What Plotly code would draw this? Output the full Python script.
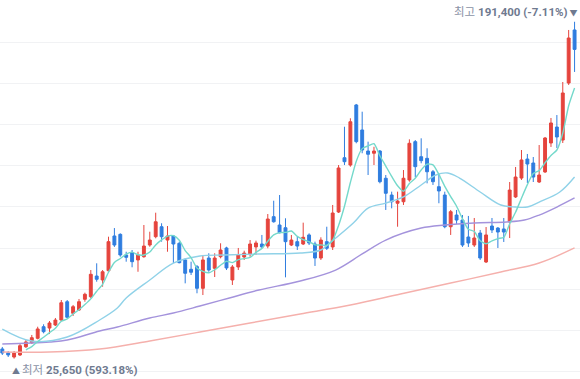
import plotly.graph_objects as go
import pandas as pd

# ---- candle data (KRW) ----
open_ = [30400, 28550, 26450, 27450, 31500, 33500, 35650, 41350, 40700, 42200,
         44650, 53650, 47950, 49600, 54850, 56100, 66300, 64350, 68900, 86000,
         86800, 76650, 77750, 74200, 75800, 81550, 85650, 90550, 84000, 86000,
         82400, 74200, 69600, 70900, 60250, 75150, 70100, 75800, 80100, 64350,
         70750, 75650, 77150, 80600, 82050, 81050, 95500, 91400, 90050, 81550,
         83200, 82050, 86500, 82050, 75150, 83200, 80600, 97800, 124500, 120900,
         150450, 138150, 127800, 126700, 127800, 114400, 106150, 102100, 102850, 113550,
         132400, 125000, 124200, 117600, 110250, 106150, 90550, 96300, 93850, 85500,
         81550, 87450, 73200, 90900, 89900, 89450, 92900, 105200, 114500, 123850,
         121900, 112550, 117500, 131750, 139600, 133200, 161250, 187350]
high_ = [31400, 29400, 29400, 33350, 34800, 37300, 41350, 42550, 44150, 45650,
         54500, 54500, 52050, 55000, 58100, 69250, 72550, 69250, 85650, 89900,
         87300, 78250, 79100, 78250, 91400, 88100, 97450, 92250, 90900, 86500,
         83200, 75000, 73350, 71700, 76650, 77500, 77500, 82400, 80700, 71700,
         80100, 78750, 84000, 83700, 86500, 96800, 103350, 106150, 94700, 86500,
         85650, 92550, 87300, 83200, 85350, 90550, 101250, 120900, 139750, 143900,
         150950, 147150, 132400, 129900, 128300, 116000, 107800, 107800, 118450, 133550,
         133200, 134050, 129150, 118450, 116000, 107800, 98800, 98800, 96300, 95850,
         94850, 88950, 90400, 94850, 90400, 94850, 112550, 119950, 128300, 126350,
         124850, 130750, 134700, 144050, 145500, 161750, 187350, 191400]
low_ = [27450, 26450, 25650, 26950, 30900, 32850, 35150, 38100, 37750, 41700,
        44150, 45650, 46650, 49100, 53650, 55350, 63500, 61050, 68400, 80600,
        75800, 73350, 70600, 68400, 75300, 80700, 84850, 83200, 78250, 72700,
        72550, 62700, 66800, 57800, 56950, 68400, 65800, 75000, 69250, 61900,
        69250, 74200, 75800, 76650, 79950, 79950, 92550, 87300, 65650, 81050,
        79100, 81550, 81550, 71250, 74200, 79100, 79100, 97300, 120900, 120100,
        131600, 126700, 116000, 120900, 111900, 98800, 99600, 90550, 101250, 112700,
        114850, 121750, 111900, 111100, 102100, 89800, 86500, 91900, 80600, 80600,
        80600, 74200, 72700, 87450, 80100, 83050, 85000, 104700, 113550, 112050,
        112550, 112050, 117000, 129800, 129300, 131750, 160300, 166700]
close_ = [28400, 27450, 28400, 32000, 33850, 35950, 40250, 38900, 43200, 44650,
          53150, 46000, 51200, 53650, 57300, 67150, 64700, 68400, 83200, 81550,
          76650, 75500, 73350, 76650, 81050, 84000, 93000, 85650, 86000, 82050,
          72850, 67650, 68150, 60250, 74200, 69250, 75150, 79100, 70250, 70750,
          76650, 77600, 82050, 82550, 80600, 94350, 93000, 87600, 83200, 84000,
          81050, 85350, 82550, 75150, 84000, 79950, 97300, 119450, 122550, 142200,
          132400, 128300, 126200, 127800, 112700, 107000, 102850, 103200, 114400, 131600,
          120100, 123050, 117600, 112700, 108150, 90550, 97950, 93850, 81550, 82550,
          85000, 75150, 86500, 88950, 87950, 87950, 108600, 115000, 123400, 121400,
          115000, 116000, 134200, 141600, 134700, 156350, 183400, 177800]

# ---- moving averages (candle index, value) ----
ma20_idx = [0, 5, 11, 16.5, 19.5, 21, 25, 29, 33.5, 37.5, 43.5, 50.5, 54, 55.5,
            59.5, 62, 65, 68, 71, 73.5, 75.5, 77.5, 81, 84.5, 87, 89, 91, 94.5, 97]
ma20_val = [40200, 34300, 36300, 44650, 50550, 55500, 64350, 72700, 76150, 76650,
            77150, 77600, 79100, 82550, 92400, 99750, 102200, 105200, 111100, 116000,
            117000, 114500, 107650, 101250, 100250, 100250, 102700, 107650, 115000]
ma60_idx = [0, 8, 11, 16.5, 19.5, 25, 29, 33.5, 38.5, 43.5, 50.5, 56.5, 61, 65,
            71, 75, 80, 85.5, 88.5, 91, 94, 97]
ma60_val = [32850, 33850, 34800, 39250, 41200, 45650, 48100, 51550, 55500, 59400,
            63850, 69250, 77150, 84000, 89900, 91400, 92400, 92900, 93850, 96300,
            100250, 104700]
ma120_idx = [0, 8, 16.5, 25, 33.5, 42, 50.5, 59, 67.5, 76, 84.5, 91, 97]
ma120_val = [28900, 28900, 30400, 34350, 38750, 43200, 47600, 52050, 57450, 62850,
             68300, 72700, 80100]

TXT_LIGHT = "#8a93a6"
TXT = "#6f7a90"
high_label = ("<span style='color:%s'>최고</span> <b>191,400 (-7.11%%)</b>"
              "<span style='font-size:8px'> ▼</span>" % TXT_LIGHT)
low_label = ("<span style='font-size:8px'>▲ </span>"
             "<span style='color:%s'>최저</span> <b>25,650 (593.18%%)</b>" % TXT_LIGHT)

idx = list(range(len(close_)))
ma5 = pd.Series(close_, dtype=float).rolling(5).mean().tolist()

RED = "#e5443d"
BLUE = "#2f7ddf"

fig = go.Figure()
fig.add_trace(go.Scatter(x=ma120_idx, y=ma120_val, mode="lines",
                         line=dict(color="#f5b0ac", width=1.4, shape="spline", smoothing=1.0),
                         hoverinfo="skip"))
fig.add_trace(go.Scatter(x=ma60_idx, y=ma60_val, mode="lines",
                         line=dict(color="#a493dc", width=1.4, shape="spline", smoothing=1.0),
                         hoverinfo="skip"))
fig.add_trace(go.Scatter(x=ma20_idx, y=ma20_val, mode="lines",
                         line=dict(color="#90d2e8", width=1.4, shape="spline", smoothing=1.0),
                         hoverinfo="skip"))
fig.add_trace(go.Scatter(x=idx, y=ma5, mode="lines",
                         line=dict(color="#74d9cb", width=1.4, shape="spline", smoothing=0.6),
                         hoverinfo="skip"))
fig.add_trace(go.Candlestick(
    x=idx, open=open_, high=high_, low=low_, close=close_,
    increasing=dict(line=dict(color=RED, width=1), fillcolor=RED),
    decreasing=dict(line=dict(color=BLUE, width=1), fillcolor=BLUE),
    whiskerwidth=0,
))

ymax = 202100
ymin = 15632
grid = [181288 - 20246 * k for k in range(9)]

fig.update_layout(
    width=580, height=379,
    margin=dict(l=0, r=0, t=0, b=0),
    paper_bgcolor="white", plot_bgcolor="white",
    showlegend=False,
    font=dict(family="Roboto, Noto Sans CJK KR, sans-serif", size=11, color=TXT),
    xaxis=dict(range=[-0.39, 97.92], visible=False, rangeslider=dict(visible=False),
               fixedrange=True),
    yaxis=dict(range=[ymin, ymax], showticklabels=False, ticks="", showline=False,
               zeroline=False, tickvals=grid, gridcolor="#f1f2f4", gridwidth=1,
               fixedrange=True),
    annotations=[
        dict(x=idx[-1], y=max(high_), xref="x", yref="y", text=high_label,
             showarrow=False, xanchor="right", yanchor="bottom", xshift=5, yshift=1,
             font=dict(size=11.5, color=TXT)),
        dict(x=idx[2], y=min(low_), xref="x", yref="y", text=low_label,
             showarrow=False, xanchor="left", yanchor="top", xshift=-4, yshift=-2,
             font=dict(size=11.5, color=TXT)),
    ],
)

fig.write_html("out.html", config={"displayModeBar": False},
               post_script="document.body.style.margin='0';document.body.style.overflow='hidden';")
